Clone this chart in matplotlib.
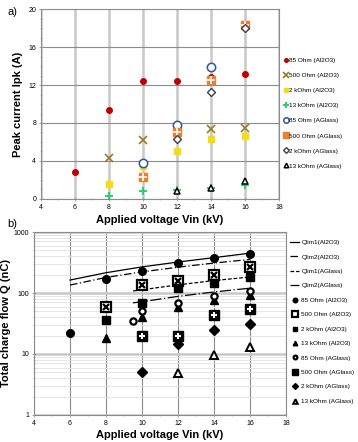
import matplotlib
matplotlib.use('Agg')
import matplotlib.pyplot as plt
from matplotlib.ticker import MultipleLocator, LogLocator, NullFormatter
import numpy as np

# panel a: peak current (A)
va = [6, 8, 10, 12, 14, 16]
ipk_85_al = [2.8, 9.4, 12.4, 12.4, 12.8, 13.2]
v_500_al = [8, 10, 14, 16]
ipk_500_al = [4.3, 6.2, 7.4, 7.5]
v_al = [8, 10, 12, 14, 16]
ipk_2k_al = [1.6, 3.5, 5.1, 6.3, 6.6]
ipk_13k_al = [0.3, 0.8, 0.9, 1.2, 1.5]
v_85_ag = [10, 12, 14]
ipk_85_ag = [3.8, 7.8, 13.9]
v_500_ag = [10, 12, 14, 16]
ipk_500_ag = [2.3, 7.1, 12.5, 18.3]
v_ag = [12, 14, 16]
ipk_2k_ag = [6.3, 11.3, 18.0]
ipk_13k_ag = [0.8, 1.2, 1.9]

# panel b: total charge (nC)
v_lim_al = [6, 8, 10, 12, 14, 16]
qlim1_al = [163, 215, 268, 322, 380, 450]
qlim2_al = [135, 180, 222, 265, 310, 355]
v_lim_ag = [9.5, 10, 12, 14, 16]
qlim1_ag = [108, 113, 136, 160, 183]
qlim2_ag = [69, 72, 88, 104, 120]

vb_85_al = [6, 8, 10, 12, 14, 16]
q_85_al = [22, 170, 229, 309, 374, 435]
vb_al = [8, 10, 12, 14, 16]
q_500_al = [59, 135, 158, 197, 268]
q_2k_al = [36, 69, 120, 146, 183]
q_13k_al = [18, 40, 59, 77, 92]
vb_85_ag = [9.5, 10, 12, 14, 16]
q_85_ag = [35, 51, 68, 89, 108]
vb_ag = [10, 12, 14, 16]
q_500_ag = [20, 20, 43, 55]
q_2k_ag = [5.1, 14.6, 25, 31]
vb_13k_ag = [12, 14, 16]
q_13k_ag = [4.9, 9.6, 13]

fig = plt.figure(figsize=(3.58, 4.42), dpi=100)
plt.rcParams['font.family'] = ['Liberation Sans', 'DejaVu Sans']

# ---------- panel a ----------
ax = fig.add_axes([0.1145, 0.5498, 0.6645, 0.4298])
ax.set_xlim(4, 18)
ax.set_ylim(0, 20)
ax.xaxis.set_major_locator(MultipleLocator(2))
ax.xaxis.set_minor_locator(MultipleLocator(1))
ax.yaxis.set_major_locator(MultipleLocator(4))
ax.yaxis.set_minor_locator(MultipleLocator(1))
ax.grid(axis='x', which='major', color='#c8c8c8', lw=1.8, zorder=0)
ax.grid(axis='y', which='major', color='#8c8c8c', lw=0.8, zorder=0)
ax.set_axisbelow(True)
ax.tick_params(labelsize=5, length=3, width=0.6, color='#999999', direction='inout', pad=2)
ax.tick_params(which='minor', length=2, width=0.6, color='#bbbbbb', direction='inout')
for s in ax.spines.values():
    s.set_color('#8c8c8c')
    s.set_linewidth(0.8)

ax.plot(va, ipk_85_al, 'o', color='#c00000', ms=4, label='85 Ohm (Al2O3)')
ax.plot(v_500_al, ipk_500_al, 'x', color='#a0782a', ms=6, mew=1.2, label='500 Ohm (Al2O3)')
ax.plot(v_al, ipk_2k_al, 's', color='#f5dc14', ms=5, label='2 kOhm (Al2O3)')
ax.plot(v_al, ipk_13k_al, '+', color='#2ecc71', ms=6, mew=1.4, label='13 kOhm (Al2O3)')
ax.plot(v_85_ag, ipk_85_ag, 'o', mfc='white', mec='#2f5597', mew=1.1, ms=6, label='85 Ohm (AGlass)')
ax.plot(v_500_ag, ipk_500_ag, 's', color='#ed7d31', ms=6, label='500 Ohm (AGlass)')
ax.plot(v_500_ag, ipk_500_ag, '+', color='white', ms=6, mew=1.2)
ax.plot(v_ag, ipk_2k_ag, 'D', mfc='white', mec='#404040', mew=1.0, ms=4.5, label='2 kOhm (AGlass)')
ax.plot(v_ag, ipk_13k_ag, '^', mfc='white', mec='black', mew=1.1, ms=5, label='13 kOhm (AGlass)')

ax.set_xlabel('Applied voltage Vin (kV)', fontsize=8, fontweight='bold', labelpad=3)
ax.set_ylabel('Peak current Ipk (A)', fontsize=8, fontweight='bold', labelpad=4)
ax.legend(loc='upper left', bbox_to_anchor=(1.01, 0.76), frameon=False, fontsize=4.6,
          handlelength=0.5, handletextpad=0.25, labelspacing=1.5, borderpad=0,
          markerscale=0.65)
fig.text(0.02, 0.965, 'a)', fontsize=8)

# ---------- panel b ----------
bx = fig.add_axes([0.095, 0.0611, 0.704, 0.414])
bx.set_yscale('log')
bx.set_xlim(4, 18)
bx.set_ylim(1, 1000)
bx.xaxis.set_major_locator(MultipleLocator(2))
bx.xaxis.set_minor_locator(MultipleLocator(1))
bx.yaxis.set_minor_locator(LogLocator(base=10, subs=np.arange(2, 10)))
bx.yaxis.set_minor_formatter(NullFormatter())
bx.set_yticks([1, 10, 100, 1000])
bx.set_yticklabels(['1', '10', '100', '1000'])
bx.grid(axis='x', which='major', color='#8c8c8c', lw=0.8, zorder=0)
bx.grid(axis='y', which='major', color='#c8c8c8', lw=1.8, zorder=0)
bx.grid(axis='y', which='minor', color='#e2e2e2', lw=0.6, zorder=0)
bx.set_axisbelow(True)
bx.tick_params(labelsize=5, length=3, width=0.6, color='#999999', direction='inout', pad=2)
bx.tick_params(which='minor', length=2, width=0.6, color='#bbbbbb', direction='inout')
for s in bx.spines.values():
    s.set_color('#8c8c8c')
    s.set_linewidth(0.8)

bx.plot(v_lim_al, qlim1_al, '-', color='black', lw=0.9, label='Qlim1(Al2O3)')
bx.plot(v_lim_al, qlim2_al, color='black', lw=0.9, dashes=[6, 2, 1, 2], label='Qlim2(Al2O3)')
bx.plot(v_lim_ag, qlim1_ag, color='black', lw=0.9, dashes=[3, 1.5], label='Qlim1(AGlass)')
bx.plot(v_lim_ag, qlim2_ag, color='black', lw=0.9, dashes=[9, 2, 1, 2], label='Qlim2(AGlass)')

bx.plot(vb_85_al, q_85_al, 'o', color='black', ms=5.5, label='85 Ohm (Al2O3)')
bx.plot(vb_al, q_500_al, 's', mfc='white', mec='black', mew=1.6, ms=7, label='500 Ohm (Al2O3)')
bx.plot(vb_al, q_500_al, 'x', color='black', ms=5, mew=1.6)
bx.plot(vb_al, q_2k_al, 's', color='black', ms=5.5, label='2 kOhm (Al2O3)')
bx.plot(vb_al, q_13k_al, '^', color='black', ms=5.5, label='13 kOhm (Al2O3)')
bx.plot(vb_85_ag, q_85_ag, 'o', mfc='white', mec='black', mew=1.6, ms=4.5, label='85 Ohm (AGlass)')
bx.plot(vb_ag, q_500_ag, 's', color='black', ms=7, label='500 Ohm (AGlass)')
bx.plot(vb_ag, q_500_ag, '+', color='white', ms=5, mew=1.5)
bx.plot(vb_ag, q_2k_ag, 'D', color='black', ms=5, label='2 kOhm (AGlass)')
bx.plot(vb_13k_ag, q_13k_ag, '^', mfc='white', mec='black', mew=1.4, ms=5.5, label='13 kOhm (AGlass)')

bx.set_xlabel('Applied voltage Vin (kV)', fontsize=8, fontweight='bold', labelpad=2)
bx.set_ylabel('Total charge flow Q (nC)', fontsize=8, fontweight='bold', labelpad=2)
bx.legend(loc='upper left', bbox_to_anchor=(1.005, 0.975), frameon=False, fontsize=4.6,
          handlelength=1.4, handletextpad=0.3, labelspacing=1.4, borderpad=0,
          markerscale=0.6)
fig.text(0.02, 0.487, 'b)', fontsize=8)

fig.savefig('out.png', dpi=100)
